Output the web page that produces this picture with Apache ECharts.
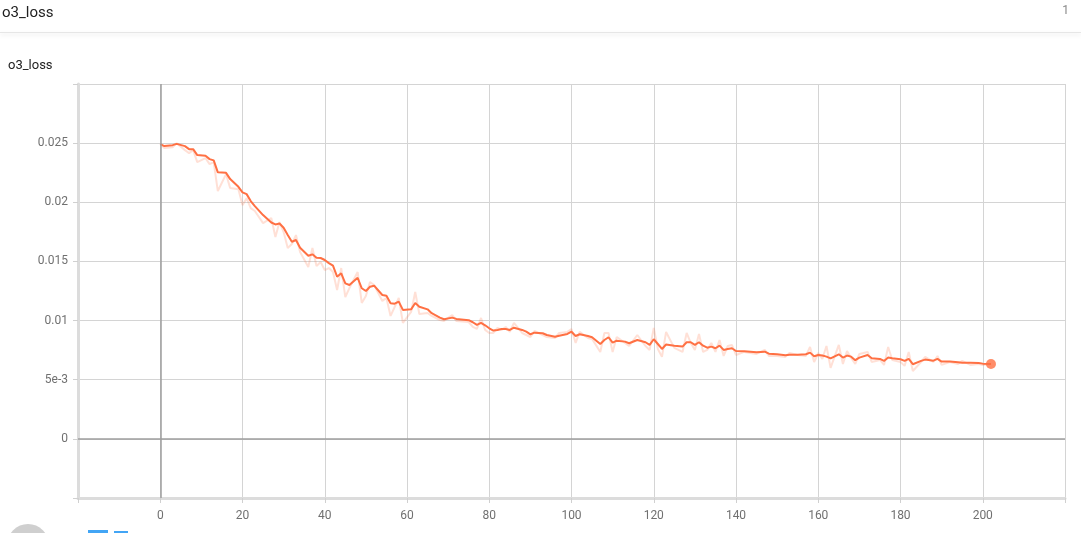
<!DOCTYPE html>
<html>
<head>
<meta charset="utf-8">
<script src="https://cdn.jsdelivr.net/npm/echarts@6/dist/echarts.min.js"></script>
<style>
html,body{margin:0;padding:0;background:#fff;}
#chart{width:1081px;height:533px;}
</style>
</head>
<body>
<div id="chart"></div>
<script>
var title = 'o3_loss';
var steps = [0,1,3,4,6,7,8,9,11,12,13,14,16,17,19,20,21,22,23,25,27,28,29,30,31,32,33,34,36,37,38,39,40,41,42,43,44,45,46,48,49,50,51,52,54,55,56,57,58,59,61,62,63,65,66,68,69,71,72,75,76,77,78,79,80,81,82,83,84,85,86,88,89,90,91,93,94,96,97,99,100,101,102,104,105,107,108,109,110,111,113,114,116,118,119,120,121,122,123,125,127,128,129,130,131,132,133,134,135,136,137,138,139,140,142,145,147,148,150,152,153,155,157,158,159,160,161,162,163,165,166,167,168,169,170,172,173,175,176,177,178,180,181,182,183,185,186,188,189,190,192,194,195,197,199,200,202];
var smoothed = [0.02492,0.02475,0.02483,0.02494,0.02475,0.02449,0.02449,0.02399,0.02393,0.02365,0.02354,0.02253,0.02249,0.02196,0.02131,0.02084,0.02069,0.02010,0.01968,0.01892,0.01829,0.01813,0.01820,0.01785,0.01723,0.01666,0.01681,0.01616,0.01548,0.01560,0.01531,0.01529,0.01512,0.01486,0.01464,0.01371,0.01400,0.01315,0.01301,0.01362,0.01273,0.01250,0.01286,0.01295,0.01216,0.01210,0.01146,0.01143,0.01160,0.01090,0.01095,0.01149,0.01117,0.01095,0.01062,0.01025,0.01011,0.01025,0.01014,0.01003,0.00986,0.00963,0.00980,0.00960,0.00935,0.00916,0.00921,0.00929,0.00929,0.00921,0.00940,0.00921,0.00906,0.00884,0.00898,0.00893,0.00878,0.00864,0.00872,0.00887,0.00906,0.00870,0.00884,0.00870,0.00859,0.00802,0.00836,0.00859,0.00813,0.00830,0.00822,0.00808,0.00836,0.00817,0.00794,0.00842,0.00802,0.00760,0.00798,0.00788,0.00780,0.00817,0.00817,0.00794,0.00817,0.00788,0.00771,0.00780,0.00766,0.00788,0.00752,0.00760,0.00766,0.00743,0.00741,0.00732,0.00737,0.00720,0.00715,0.00707,0.00712,0.00712,0.00715,0.00729,0.00698,0.00709,0.00704,0.00695,0.00680,0.00715,0.00687,0.00704,0.00695,0.00665,0.00687,0.00709,0.00682,0.00676,0.00659,0.00687,0.00682,0.00673,0.00659,0.00676,0.00631,0.00659,0.00670,0.00661,0.00676,0.00653,0.00653,0.00648,0.00644,0.00644,0.00642,0.00636,0.00633];
var raw = [0.02492,0.02458,0.02466,0.02500,0.02441,0.02416,0.02441,0.02340,0.02373,0.02323,0.02340,0.02095,0.02238,0.02120,0.02111,0.01976,0.02035,0.01951,0.01926,0.01824,0.01867,0.01706,0.01833,0.01748,0.01613,0.01647,0.01723,0.01579,0.01453,0.01613,0.01461,0.01495,0.01427,0.01444,0.01410,0.01258,0.01444,0.01199,0.01275,0.01410,0.01149,0.01208,0.01326,0.01301,0.01166,0.01191,0.01039,0.01115,0.01191,0.00980,0.01073,0.01242,0.01056,0.01064,0.01039,0.01005,0.00997,0.01047,0.00997,0.00988,0.00946,0.00929,0.01022,0.00921,0.00895,0.00895,0.00938,0.00921,0.00946,0.00904,0.00980,0.00895,0.00878,0.00861,0.00912,0.00878,0.00861,0.00853,0.00895,0.00904,0.00929,0.00811,0.00904,0.00853,0.00845,0.00735,0.00895,0.00895,0.00735,0.00861,0.00811,0.00785,0.00878,0.00785,0.00752,0.00938,0.00760,0.00693,0.00904,0.00769,0.00735,0.00895,0.00811,0.00752,0.00887,0.00735,0.00752,0.00811,0.00735,0.00836,0.00701,0.00785,0.00794,0.00709,0.00735,0.00718,0.00752,0.00701,0.00701,0.00693,0.00726,0.00709,0.00701,0.00777,0.00650,0.00726,0.00676,0.00785,0.00600,0.00794,0.00633,0.00743,0.00684,0.00633,0.00718,0.00735,0.00650,0.00667,0.00625,0.00777,0.00667,0.00650,0.00617,0.00735,0.00574,0.00650,0.00693,0.00650,0.00701,0.00625,0.00650,0.00633,0.00659,0.00625,0.00633,0.00625,0.00633];
var xTicks = {min: -20, max: 220, interval: 20};
var yTicks = {min: -0.005, max: 0.03, interval: 0.005};

var smoothData = steps.map(function(s, i){ return [s, smoothed[i]]; });
var rawData = steps.map(function(s, i){ return [s, raw[i]]; });
var last = smoothData[smoothData.length - 1];

var chart = echarts.init(document.getElementById('chart'), null, {renderer: 'canvas'});
var FONT = 'Roboto, "Open Sans", sans-serif';
chart.setOption({
  animation: false,
  textStyle: {fontFamily: FONT},
  grid: {left: 78, right: 16, top: 84, bottom: 35},
  graphic: [
    {type: 'text', left: 2, top: 6, style: {text: title, fontSize: 15, fill: '#212121', fontFamily: FONT}},
    {type: 'text', right: 12, top: 5, style: {text: '1', fontSize: 12, fill: '#888', fontFamily: FONT}},
    {type: 'rect', shape: {x: 0, y: 32, width: 1081, height: 1}, style: {fill: '#e6e6e6', shadowBlur: 4, shadowOffsetY: 2, shadowColor: 'rgba(0,0,0,0.15)'}},
    {type: 'text', left: 8, top: 59, style: {text: title, fontSize: 13, fill: '#212121', fontFamily: FONT}},
    {type: 'circle', shape: {cx: 28, cy: 545, r: 21}, style: {fill: '#cfcfcf'}},
    {type: 'rect', shape: {x: 88, y: 530, width: 20, height: 3}, style: {fill: '#42a5f5'}},
    {type: 'rect', shape: {x: 114, y: 531, width: 14, height: 2}, style: {fill: '#42a5f5'}}
  ],
  xAxis: {
    type: 'value', min: xTicks.min, max: xTicks.max, interval: xTicks.interval,
    axisLine: {onZero: false, lineStyle: {color: '#dcdcdc', width: 3}},
    axisTick: {show: true, length: 5, lineStyle: {color: '#d0d0d0'}},
    axisLabel: {color: '#707070', fontSize: 12, margin: 12, fontFamily: FONT,
      formatter: function(v){ return (v < 0 || v > 210) ? '' : String(v); }},
    splitLine: {show: true, lineStyle: {color: '#d4d4d4', width: 1}}
  },
  yAxis: {
    type: 'value', min: yTicks.min, max: yTicks.max, interval: yTicks.interval,
    axisLine: {show: true, onZero: false, lineStyle: {color: '#dcdcdc', width: 3}},
    axisTick: {show: true, length: 5, lineStyle: {color: '#d0d0d0'}},
    axisLabel: {color: '#707070', fontSize: 12, margin: 10, fontFamily: FONT,
      formatter: function(v){
        if (v < -1e-9 || v > 0.0299) return '';
        if (Math.abs(v) < 1e-9) return '0';
        if (Math.abs(v - 0.005) < 1e-9) return '5e-3';
        return String(+v.toFixed(4));
      }},
    splitLine: {show: true, lineStyle: {color: '#d4d4d4', width: 1}}
  },
  series: [
    {
      type: 'line', data: rawData, showSymbol: false, symbol: 'none',
      lineStyle: {color: '#ff7043', width: 2, opacity: 0.22},
      z: 2,
      markLine: {
        silent: true, symbol: 'none', label: {show: false},
        lineStyle: {color: '#9e9e9e', width: 1.5, type: 'solid'},
        data: [{xAxis: 0}, {yAxis: 0}]
      }
    },
    {
      type: 'line', data: smoothData, showSymbol: false, symbol: 'none',
      lineStyle: {color: '#ff7043', width: 2}, z: 3
    },
    {
      type: 'scatter', data: [last], symbolSize: 10,
      itemStyle: {color: '#ff7043'}, z: 4
    }
  ]
});
</script>
</body>
</html>
